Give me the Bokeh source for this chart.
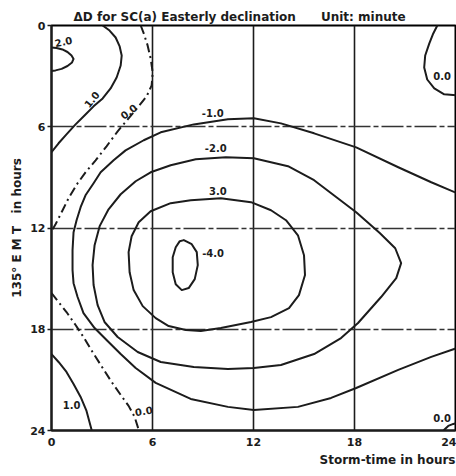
from bokeh.plotting import figure
from bokeh.models import Title, FixedTicker, Range1d, ColumnDataSource
from bokeh.embed import file_html
from bokeh.resources import INLINE
from bokeh.core.properties import value

# ---- axis ticks (hours) ----
hour_ticks = [0, 6, 12, 18, 24]
grid_hours = [6, 12, 18]

# ---- contour paths: x = storm-time (h), y = 135°E mean time (h) ----
# +2.0 closed loop at the left edge
c_p20_x = [0, 0.30, 0.65, 0.95, 1.19, 1.31, 1.22, 0.95, 0.60, 0.24, 0]
c_p20_y = [1.30, 1.33, 1.42, 1.57, 1.78, 1.98, 2.19, 2.40, 2.57, 2.66, 2.69]

# +1.0 upper-left
c_p10a_x = [3.04, 3.45, 3.81, 4.05, 4.17, 4.11, 3.87, 3.51, 3.04, 2.50, 1.96, 1.43, 0.89, 0.42, 0]
c_p10a_y = [0, 0.30, 0.71, 1.24, 1.78, 2.37, 3.08, 3.73, 4.32, 4.79, 5.33, 5.86, 6.45, 6.98, 7.51]

# +1.0 lower-left
c_p10b_x = [0, 0.42, 0.89, 1.31, 1.73, 2.08, 2.38]
c_p10b_y = [19.47, 19.94, 20.53, 21.24, 22.01, 22.84, 23.96]

# 0.0 upper-left (dash-dot)
c_z_a_x = [5.30, 5.48, 5.71, 5.89, 6.01, 5.95, 5.65, 5.18, 4.58, 3.93, 3.27, 2.62,
           2.02, 1.55, 1.01, 0.60, 0.24, 0]
c_z_a_y = [0, 0.47, 1.18, 1.95, 2.78, 3.55, 4.20, 4.79, 5.50, 6.27, 7.16, 7.99,
           8.70, 9.35, 10.24, 11.07, 11.78, 12.19]

# 0.0 lower-left (dash-dot)
c_z_b_x = [0, 0.42, 0.89, 1.43, 1.90, 2.44, 3.04, 3.57, 4.11, 4.58, 4.94, 5.18]
c_z_b_y = [15.86, 16.39, 16.98, 17.75, 18.46, 19.35, 20.30, 21.12, 21.89, 22.54, 23.20, 23.96]

# 0.0 upper-right
c_z_c_x = [22.92, 22.68, 22.44, 22.20, 22.14, 22.32, 22.74, 23.33, 24.1]
c_z_c_y = [0, 0.47, 1.07, 1.78, 2.49, 3.20, 3.73, 4.08, 4.14]

# 0.0 lower-right corner
c_z_d_x = [23.33, 23.57, 23.87, 24.1]
c_z_d_y = [23.96, 23.73, 23.61, 23.55]

# -1.0 (open to the right edge)
c_m10_x = [24.1, 22.56, 20.60, 18.10, 15.60, 13.63, 12.02, 10.48, 8.45, 6.49, 5.48, 4.40,
           3.69, 2.92, 2.50, 2.02, 1.73, 1.49, 1.31, 1.25, 1.25, 1.31, 1.55, 1.90, 2.56,
           3.33, 4.11, 5.00, 6.19, 8.27, 10.48, 12.02, 14.64, 16.61, 18.10, 20.60, 22.56, 24.1]
c_m10_y = [9.94, 9.29, 8.40, 7.22, 6.39, 5.80, 5.50, 5.56, 5.86, 6.33, 6.80, 7.40,
           7.99, 8.70, 9.35, 10.06, 10.77, 11.54, 12.25, 13.31, 14.50, 15.27, 16.09, 17.04, 17.93,
           18.70, 19.47, 20.30, 21.18, 22.13, 22.60, 22.78, 22.60, 22.07, 21.48, 20.41, 19.64, 19.11]

# -2.0 closed
c_m20_x = [12.02, 10.36, 8.57, 7.08, 5.89, 5.00, 4.11, 3.39, 2.86, 2.56, 2.44, 2.50, 2.74,
           3.15, 3.93, 5.12, 6.49, 8.45, 10.48, 12.02, 13.63, 15.60, 17.20, 18.21, 19.58,
           20.48, 20.77, 20.42, 19.50, 18.10, 15.60, 14.05, 12.02]
c_m20_y = [7.87, 7.81, 7.93, 8.28, 8.70, 9.23, 10.00, 10.89, 11.89, 13.02, 14.20, 15.38, 16.57,
           17.57, 18.46, 19.35, 19.94, 20.24, 20.36, 20.30, 20.12, 19.47, 18.52, 17.63, 16.09,
           14.97, 14.08, 13.20, 12.30, 11.07, 9.17, 8.34, 7.87]

# -3.0 closed
c_m30_x = [11.85, 10.06, 8.27, 7.08, 5.89, 5.18, 4.76, 4.58, 4.64, 4.88, 5.42, 6.19, 6.96,
           7.98, 8.87, 10.06, 11.85, 13.04, 14.11, 14.70, 15.06, 15.00, 14.64, 13.93, 13.04, 11.85]
c_m30_y = [10.47, 10.24, 10.36, 10.53, 11.01, 11.66, 12.49, 13.43, 14.62, 15.68, 16.63, 17.34, 17.81,
           18.05, 18.11, 17.93, 17.57, 17.28, 16.75, 15.98, 14.79, 13.61, 12.43, 11.54, 10.95, 10.47]

# -4.0 closed
c_m40_x = [7.86, 8.33, 8.63, 8.69, 8.51, 8.15, 7.74, 7.38, 7.20, 7.20, 7.38, 7.62, 7.86]
c_m40_y = [12.72, 12.96, 13.43, 14.20, 15.03, 15.56, 15.68, 15.33, 14.62, 13.73, 13.14, 12.78, 12.72]

# contour label texts
level_labels = ["2.0", "1.0", "0.0", "-1.0", "-2.0", "3.0", "-4.0", "0.0", "1.0", "0.0", "0.0"]

NB = "\u00a0"

# ---- figure ----
p = figure(width=456, height=476,
           x_range=Range1d(0, 24), y_range=Range1d(24, 0),
           output_backend="svg", toolbar_location=None,
           min_border_left=51, min_border_right=1,
           min_border_top=25, min_border_bottom=46,
           background_fill_color="white", border_fill_color="white")

p.outline_line_color = "black"
p.outline_line_width = 2

INK = "#1c1c1c"
FONT = "DejaVu Sans"

# title across the top
p.title.text = "ΔD for SC(a) Easterly declination" + NB * 6 + "Unit: minute"
p.title.align = "left"
p.title.offset = 22
p.title.text_font = FONT
p.title.text_font_size = "12px"
p.title.text_font_style = "bold"
p.title.text_color = INK
p.title.standoff = 3

# x-axis caption, bottom right
p.add_layout(Title(text="Storm-time in hours", align="right",
                   text_font=FONT, text_font_size="12px", text_font_style="bold",
                   text_color=INK, standoff=5), "below")

# grid: solid verticals, broken horizontals
p.xgrid.ticker = FixedTicker(ticks=grid_hours)
p.xgrid.grid_line_color = INK
p.xgrid.grid_line_width = 1.6
p.ygrid.ticker = FixedTicker(ticks=grid_hours)
p.ygrid.grid_line_color = "#333333"
p.ygrid.grid_line_width = 1.3
p.ygrid.grid_line_dash = "22 3 5 3"

for ax in (p.xaxis, p.yaxis):
    ax.ticker = FixedTicker(ticks=hour_ticks)
    ax.axis_line_color = INK
    ax.axis_line_width = 2
    ax.major_tick_in = 0
    ax.minor_tick_line_color = None
    ax.major_tick_line_color = INK
    ax.major_tick_line_width = 1.5
    ax.major_label_text_font = FONT
    ax.major_label_text_font_size = "11px"
    ax.major_label_text_font_style = "bold"
    ax.major_label_text_color = INK

p.xaxis.major_tick_out = 0
p.xaxis.major_label_standoff = 7
p.yaxis.major_tick_out = 4
p.yaxis.major_label_standoff = 2

p.yaxis.axis_label = "135°" + NB + "E" + NB + "M" + NB + "T" + NB * 3 + "in" + NB + "hours"
p.yaxis.axis_label_text_font = FONT
p.yaxis.axis_label_text_font_size = "12px"
p.yaxis.axis_label_text_font_style = "bold"
p.yaxis.axis_label_text_color = INK
p.yaxis.axis_label_standoff = 3

# ---- contours ----
solid = dict(line_color=INK, line_width=2, line_join="round", line_cap="round")
dashdot = dict(line_color=INK, line_width=2, line_dash="9 4 2 4", line_join="round")

for xs, ys in [(c_p20_x, c_p20_y), (c_p10a_x, c_p10a_y), (c_p10b_x, c_p10b_y),
               (c_z_c_x, c_z_c_y), (c_z_d_x, c_z_d_y),
               (c_m10_x, c_m10_y), (c_m20_x, c_m20_y), (c_m30_x, c_m30_y), (c_m40_x, c_m40_y)]:
    p.line(xs, ys, **solid)

for xs, ys in [(c_z_a_x, c_z_a_y), (c_z_b_x, c_z_b_y)]:
    p.line(xs, ys, **dashdot)

# contour labels
lab = ColumnDataSource(dict(
    x=[0.71, 2.38, 4.58, 9.58, 9.76, 9.88, 9.60, 23.2, 1.19, 5.48, 23.2],
    y=[0.95, 4.38, 5.10, 5.21, 7.28, 9.82, 13.49, 3.02, 22.49, 22.84, 23.25],
    angle=[0.2, 0.9, 0.65, 0, 0, 0, 0, 0, 0, 0.15, 0],
    text=level_labels,
))
p.text(x="x", y="y", text="text", angle="angle", source=lab,
       text_font=value(FONT), text_font_size="10px", text_font_style="bold",
       text_color=INK, text_align="center", text_baseline="middle")

open("out.html", "w").write(file_html(p, INLINE))
